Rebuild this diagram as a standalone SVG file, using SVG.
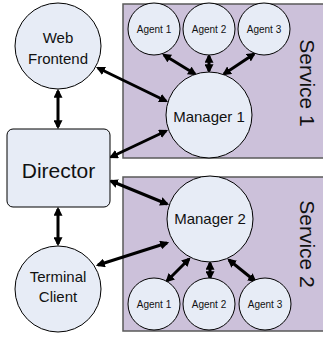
<svg xmlns="http://www.w3.org/2000/svg" width="323" height="337" viewBox="0 0 323 337">
<style>
.svc{fill:#CCC1DA;stroke:#5A5A5A;stroke-width:1.5}
.nd{fill:#E7ECF6;stroke:#000;stroke-width:1}
.t{font-family:"Liberation Sans",Arial,sans-serif;fill:#111;text-anchor:middle}
.c{stroke:#000;stroke-width:3;fill:none;marker-start:url(#ah);marker-end:url(#ah)}
</style>
<defs>
<marker id="ah" markerUnits="userSpaceOnUse" markerWidth="9" markerHeight="9" refX="6" refY="4" orient="auto-start-reverse" viewBox="0 0 8 8">
<path d="M0,0 L8,4 L0,8 z" fill="#000"/>
</marker>
</defs>
<g id="service1">
<rect class="svc" x="123" y="4" width="203" height="154"/>
<text class="t" font-size="21" transform="translate(300,83) rotate(90)">Service 1</text>
</g>
<g id="service2">
<rect class="svc" x="123" y="177" width="203" height="154"/>
<text class="t" font-size="21" transform="translate(300,244) rotate(90)">Service 2</text>
</g>
<g id="connectors">
<line class="c" x1="58" y1="91" x2="58" y2="127"/>
<line class="c" x1="58" y1="209" x2="58" y2="244"/>
<line class="c" x1="98" y1="68" x2="166" y2="101"/>
<line class="c" x1="111" y1="157" x2="166" y2="131"/>
<line class="c" x1="111" y1="181" x2="167" y2="204"/>
<line class="c" x1="98" y1="265" x2="167" y2="243"/>
<line class="c" x1="164" y1="55" x2="195" y2="74"/>
<line class="c" x1="209" y1="56" x2="209" y2="71"/>
<line class="c" x1="254" y1="54" x2="224" y2="74"/>
<line class="c" x1="189" y1="259" x2="167" y2="281"/>
<line class="c" x1="210" y1="263" x2="210" y2="278"/>
<line class="c" x1="229" y1="260" x2="255" y2="281"/>
</g>
<g id="web">
<circle class="nd" cx="58" cy="46" r="43"/>
<text class="t" font-size="15" x="58" y="43">Web</text>
<text class="t" font-size="15" x="58" y="64">Frontend</text>
</g>
<g id="director">
<rect class="nd" x="7" y="129" width="103" height="78" rx="6"/>
<text class="t" font-size="21" x="58.5" y="178">Director</text>
</g>
<g id="terminal">
<circle class="nd" cx="58" cy="289" r="43"/>
<text class="t" font-size="15" x="58" y="282">Terminal</text>
<text class="t" font-size="15" x="58" y="302">Client</text>
</g>
<g id="manager1">
<circle class="nd" cx="209" cy="115" r="43"/>
<text class="t" font-size="15" x="209" y="122">Manager 1</text>
</g>
<g id="manager2">
<circle class="nd" cx="210" cy="219" r="43"/>
<text class="t" font-size="15" x="210" y="224">Manager 2</text>
</g>
<g id="s1agent1"><circle class="nd" cx="154" cy="29" r="26"/><text class="t" font-size="10" x="154" y="33">Agent 1</text></g>
<g id="s1agent2"><circle class="nd" cx="209" cy="29" r="26"/><text class="t" font-size="10" x="209" y="33">Agent 2</text></g>
<g id="s1agent3"><circle class="nd" cx="264" cy="29" r="26"/><text class="t" font-size="10" x="264" y="33">Agent 3</text></g>
<g id="s2agent1"><circle class="nd" cx="154" cy="304" r="26"/><text class="t" font-size="10" x="154" y="308">Agent 1</text></g>
<g id="s2agent2"><circle class="nd" cx="209" cy="304" r="26"/><text class="t" font-size="10" x="209" y="308">Agent 2</text></g>
<g id="s2agent3"><circle class="nd" cx="265" cy="304" r="26"/><text class="t" font-size="10" x="265" y="308">Agent 3</text></g>
</svg>
